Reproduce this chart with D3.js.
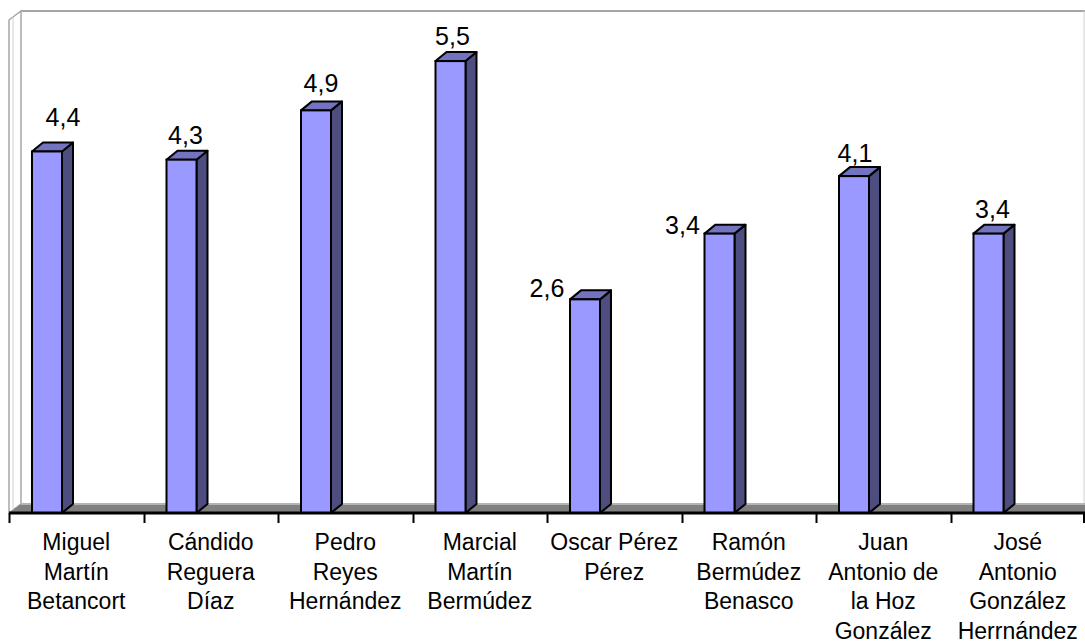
<!DOCTYPE html>
<html>
<head>
<meta charset="utf-8">
<script src="https://cdn.jsdelivr.net/npm/d3@7"></script>
<style>
  html, body { margin: 0; padding: 0; background: #fff; }
  svg { display: block; }
  text { font-family: "Liberation Sans", Arial, sans-serif; fill: #000; }
</style>
</head>
<body>
<svg id="chart" width="1085" height="643"></svg>
<script>
// ---- data ----
const categories = [
  ["Miguel", "Martín", "Betancort"],
  ["Cándido", "Reguera", "Díaz"],
  ["Pedro", "Reyes", "Hernández"],
  ["Marcial", "Martín", "Bermúdez"],
  ["Oscar Pérez", "Pérez"],
  ["Ramón", "Bermúdez", "Benasco"],
  ["Juan", "Antonio de", "la Hoz", "González"],
  ["José", "Antonio", "González", "Herrnández"]
];
const values = [4.4, 4.3, 4.9, 5.5, 2.6, 3.4, 4.1, 3.4];
const valueLabels = ["4,4", "4,3", "4,9", "5,5", "2,6", "3,4", "4,1", "3,4"];

// ---- layout (label placement as in the original, not data) ----
const labelShift = [[16, -25], [4, -16], [5, -18], [2, -16], [-38, -2], [-37, 0], [1, -14], [4, -16]];

(function () {
const svg = d3.select("#chart");
const W = 1085;
const pLeft = 9, pRight = 1085, base = 513, pTop = 20;
const wallDx = 12, wallDy = 9;
const barDx = 11, barDy = 9;

const x = d3.scaleBand().domain(d3.range(categories.length)).range([pLeft, pRight]).paddingInner(0).paddingOuter(0);
const y = d3.scaleLinear().domain([0, 6]).range([base, pTop]);

const wallColor = "#a6a6a6";
const g = svg.append("g");
// side wall
g.append("path")
  .attr("d", `M${pLeft},${y(6)} L${pLeft + wallDx},${y(6) - wallDy} L${pLeft + wallDx},${base - wallDy} L${pLeft},${base} Z`)
  .attr("fill", "#fff").attr("stroke", wallColor).attr("stroke-width", 1.5);
g.append("line").attr("x1", pLeft + 4).attr("y1", y(6) - 3).attr("x2", pLeft + 4).attr("y2", base - 3)
  .attr("stroke", "#d0d0d0").attr("stroke-width", 1);
// back wall top & right edge
g.append("path")
  .attr("d", `M${pLeft + wallDx},${y(6) - wallDy} L${pRight},${y(6) - wallDy}`)
  .attr("fill", "none").attr("stroke", wallColor).attr("stroke-width", 2);
g.append("line").attr("x1", pRight - 1).attr("y1", y(6) - wallDy).attr("x2", pRight - 1).attr("y2", base - wallDy)
  .attr("stroke", "#d0d0d0").attr("stroke-width", 1);

// floor
g.append("path")
  .attr("d", `M${pLeft},${base} L${pLeft + wallDx},${base - wallDy} L${pRight},${base - wallDy} L${pRight},${base} Z`)
  .attr("fill", "#808080").attr("stroke", "none");
g.append("line").attr("x1", pLeft + wallDx).attr("y1", base - wallDy).attr("x2", pRight).attr("y2", base - wallDy)
  .attr("stroke", "#b4b4b4").attr("stroke-width", 2);

// bars
const bars = svg.append("g").selectAll("g.bar").data(values).join("g").attr("class", "bar");
const bw = 30;
const bx = i => x(i) + 23;
bars.append("path") // side
  .attr("d", (d, i) => `M${bx(i) + bw},${base} L${bx(i) + bw + barDx},${base - barDy} L${bx(i) + bw + barDx},${y(d) - barDy} L${bx(i) + bw},${y(d)} Z`)
  .attr("fill", "#4d4d80").attr("stroke", "#000").attr("stroke-width", 2).attr("stroke-linejoin", "round");
bars.append("path") // top
  .attr("d", (d, i) => `M${bx(i)},${y(d)} L${bx(i) + barDx},${y(d) - barDy} L${bx(i) + bw + barDx},${y(d) - barDy} L${bx(i) + bw},${y(d)} Z`)
  .attr("fill", "#7373bf").attr("stroke", "#000").attr("stroke-width", 2).attr("stroke-linejoin", "round");
bars.append("rect") // front
  .attr("x", (d, i) => bx(i)).attr("y", d => y(d))
  .attr("width", bw).attr("height", d => base - y(d))
  .attr("fill", "#9999ff").attr("stroke", "#000").attr("stroke-width", 2);

// baseline (front edge of floor) and ticks
const axis = d3.axisBottom(x).tickSize(9).tickFormat("");
const ax = svg.append("g").attr("transform", `translate(0,${base})`).call(axis);
ax.select(".domain").remove();
ax.selectAll(".tick").remove();
ax.append("line").attr("x1", pLeft).attr("x2", pRight).attr("y1", 0).attr("y2", 0)
  .attr("stroke", "#000").attr("stroke-width", 3);
const tickPos = x.domain().map(i => x(i)).concat([pRight]);
ax.selectAll("line.tk").data(tickPos).join("line").attr("class", "tk")
  .attr("x1", d => Math.min(Math.round(d) + 0.5, W - 1)).attr("x2", d => Math.min(Math.round(d) + 0.5, W - 1))
  .attr("y1", 0).attr("y2", 10).attr("stroke", "#000").attr("stroke-width", 2);

// value labels
svg.append("g").selectAll("text").data(values).join("text")
  .attr("x", (d, i) => bx(i) + bw / 2 + labelShift[i][0])
  .attr("y", (d, i) => y(d) + labelShift[i][1])
  .attr("text-anchor", "middle")
  .attr("font-size", 25)
  .text((d, i) => valueLabels[i]);

// category labels
const cl = svg.append("g").selectAll("text").data(categories).join("text")
  .attr("x", (d, i) => x(i) + x.bandwidth() / 2)
  .attr("y", 550)
  .attr("text-anchor", "middle")
  .attr("font-size", 23);
cl.selectAll("tspan").data(d => d).join("tspan")
  .attr("x", function () { return d3.select(this.parentNode).attr("x"); })
  .attr("dy", (d, j) => j === 0 ? 0 : 29.5)
  .text(d => d);
})();
</script>
</body>
</html>
